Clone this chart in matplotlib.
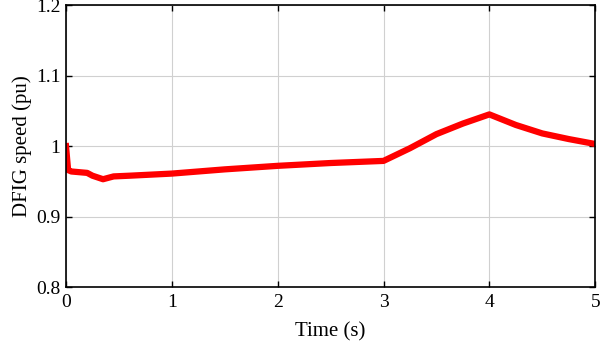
import numpy as np
from matplotlib import pyplot as plt

# DFIG rotor speed
time = [0.0, 0.02, 0.05, 0.2, 0.25, 0.35, 0.45, 0.6, 1.0, 1.5, 2.0, 2.5, 3.0,
        3.25, 3.5, 3.75, 4.0, 4.25, 4.5, 4.75, 5.0]
speed = [1.0, 0.966, 0.964, 0.962, 0.958, 0.953, 0.957, 0.958, 0.961, 0.967, 0.972, 0.976, 0.979,
         0.997, 1.017, 1.032, 1.045, 1.030, 1.018, 1.010, 1.003]

plt.rcParams['font.family'] = ['Liberation Serif', 'DejaVu Serif']

fig, ax = plt.subplots(figsize=(6, 3.45), dpi=100)
fig.subplots_adjust(left=0.11, right=0.992, top=0.985, bottom=0.168)

ax.plot(time, speed, color='#ff0000', lw=4.5, solid_joinstyle='round')
ax.set_xlim(0, 5)
ax.set_ylim(0.8, 1.2)
ax.set_xticks([0, 1, 2, 3, 4, 5])
ax.set_yticks([0.8, 0.9, 1.0, 1.1, 1.2])
ax.set_yticklabels(['0.8', '0.9', '1', '1.1', '1.2'])
ax.grid(True, color='#d0d0d0', lw=0.8)
ax.tick_params(direction='in', labelsize=14, length=4, width=1, top=True, right=True)
ax.tick_params(axis='x', pad=5)
ax.tick_params(axis='y', pad=4)
for s in ax.spines.values():
  s.set_linewidth(1.2)
ax.set_xlabel('Time (s)', fontsize=15, labelpad=8)
ax.set_ylabel('DFIG speed (pu)', fontsize=15, labelpad=3)

fig.savefig('out.png')
